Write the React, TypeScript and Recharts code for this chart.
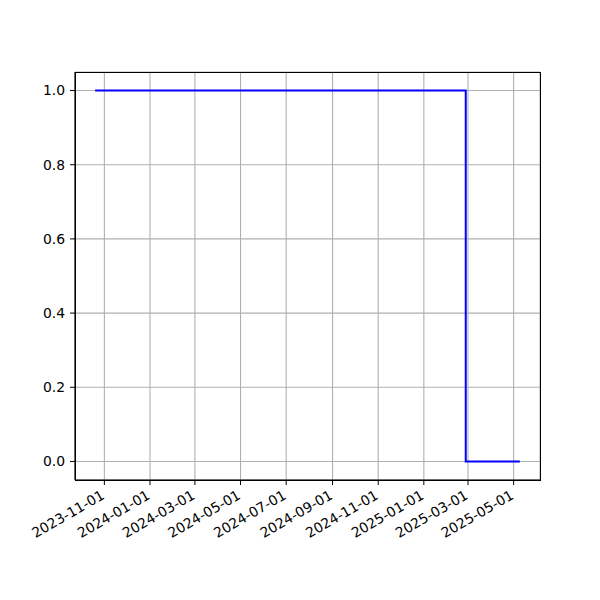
import { LineChart, Line, XAxis, YAxis, CartesianGrid } from "recharts";

const dates = ["2023-10-21", "2025-02-26", "2025-05-08"];
const values = [1, 0, 0];

const xTickLabels = [
  "2023-11-01",
  "2024-01-01",
  "2024-03-01",
  "2024-05-01",
  "2024-07-01",
  "2024-09-01",
  "2024-11-01",
  "2025-01-01",
  "2025-03-01",
  "2025-05-01",
];
const yTicks = [0, 0.2, 0.4, 0.6, 0.8, 1.0];

const FONT = "DejaVu Sans, sans-serif";

const data = dates.map((d, i) => ({ t: Date.parse(d), v: values[i] }));
const xTicks = xTickLabels.map((s) => Date.parse(s));

// matplotlib-style 5% margins around the data
const tMin = data[0].t;
const tMax = data[data.length - 1].t;
const pad = (tMax - tMin) * 0.05;
const xDomain = [tMin - pad, tMax + pad];

const M = { top: 72, right: 60, bottom: 40, left: 15 };
const Y_W = 60;
const X_H = 80;

function fmtDate(ts: number) {
  return new Date(ts).toISOString().slice(0, 10);
}

function DateTick(props: any) {
  const { x, y, payload } = props;
  const ax = x + 1;
  const ay = y + 8;
  return (
    <text
      x={ax}
      y={ay}
      transform={`rotate(-30, ${ax}, ${ay})`}
      textAnchor="end"
      fontSize={13.9}
      fontFamily={FONT}
      fill="#000"
    >
      {fmtDate(payload.value)}
    </text>
  );
}

export default function App() {
  const plotW = 600 - M.left - Y_W - M.right;
  const plotH = 600 - M.top - M.bottom - X_H;
  return (
    <div style={{ position: "absolute", left: 0, top: 0, width: 600, height: 600, background: "#fff" }}>
      <LineChart width={600} height={600} data={data} margin={M}>
        <CartesianGrid stroke="#b0b0b0" strokeWidth={1.1} />
        <XAxis
          dataKey="t"
          type="number"
          domain={xDomain}
          ticks={xTicks}
          height={X_H}
          allowDataOverflow
          stroke="#000"
          tickSize={5}
          tickMargin={5}
          tick={<DateTick />}
          interval={0}
        />
        <YAxis
          type="number"
          domain={[-0.05, 1.05]}
          ticks={yTicks}
          width={Y_W}
          allowDataOverflow
          stroke="#000"
          tickSize={5}
          tickMargin={5}
          interval={0}
          tickFormatter={(v: number) => v.toFixed(1)}
          tick={{ fontSize: 13.9, fontFamily: FONT, fill: "#000" }}
        />
        <Line
          type="stepAfter"
          dataKey="v"
          stroke="#0000ff"
          strokeWidth={2}
          strokeLinecap="square"
          dot={false}
          isAnimationActive={false}
        />
      </LineChart>
      {/* axes frame (top/right spines) */}
      <div
        style={{
          position: "absolute",
          left: M.left + Y_W,
          top: M.top,
          width: plotW + 1,
          height: plotH + 1,
          border: "1px solid #000",
          boxSizing: "border-box",
          pointerEvents: "none",
        }}
      />
    </div>
  );
}
